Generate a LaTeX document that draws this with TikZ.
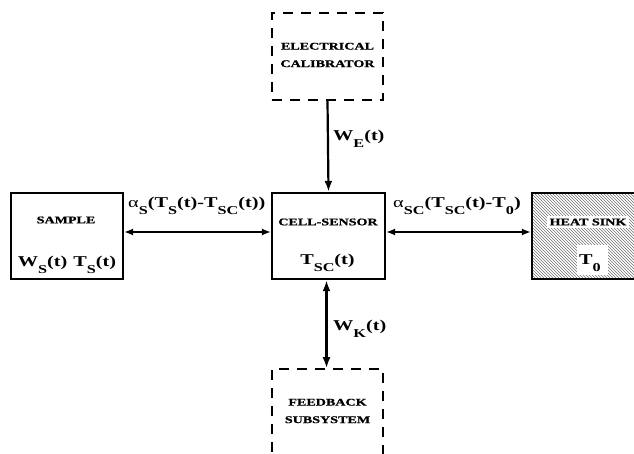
\documentclass[tikz,border=0pt]{standalone}
\usepackage{fontspec}
\setmainfont{Liberation Serif}[FakeStretch=1.35]
\newfontfamily\capfont{Liberation Serif}[FakeStretch=1.38, FakeBold=1.2]
\usetikzlibrary{arrows.meta,patterns}
\newcommand\sbs[1]{\raisebox{-7pt}{\fontsize{12}{12}\selectfont\bfseries #1}}
\begin{document}
\begin{tikzpicture}[x=1pt,y=-1pt,
 blk/.style={draw,line width=2.4pt,inner sep=0pt},
 dbox/.style={draw,line width=1.6pt,dash pattern=on 10pt off 8pt,inner sep=0pt},
 boxcap/.style={font=\capfont\bfseries\fontsize{10.2}{17.5}\selectfont, align=center, inner sep=1pt},
 lbl/.style={font=\bfseries\fontsize{15}{17}\selectfont, inner sep=0pt},
 harr/.style={line width=1.4pt,{Latex[length=9pt,width=7pt]}-{Latex[length=9pt,width=7pt]}},
 varr/.style={line width=2.2pt}]
\useasboundingbox (0,0) rectangle (634,454);
\clip (0,0) rectangle (634,454);
% boxes
\node[blk, minimum width=112pt, minimum height=86pt] (sample) at (67,236) {};
\node[blk, minimum width=113pt, minimum height=86pt] (cell) at (328.5,236) {};
\node[blk, minimum width=130pt, minimum height=86pt, pattern=north west lines, pattern color=black!55] (sink) at (597,236) {};
\node[dbox, minimum width=111pt, minimum height=87pt] (cal) at (327.5,56.5) {};
\node[dbox, minimum width=111pt, minimum height=101pt] (fb) at (327.5,419.5) {};
% box texts
\node[boxcap] (tsample) at (66,220) {SAMPLE};
\node[lbl, anchor=base] (vsample) at (67,266) {W\sbs{S}(t)\hspace{6pt}T\sbs{S}(t)};
\node[boxcap] (tcell) at (328,222) {CELL-SENSOR};
\node[lbl, anchor=base] (vcell) at (327.5,265) {T\sbs{SC}(t)};
\node[boxcap, fill=white, inner sep=3pt] (tsink) at (588,222) {HEAT SINK};
\node[fill=white, minimum width=31pt, minimum height=29pt, inner sep=0pt] (wsink) at (592,260) {};
\node[lbl, anchor=base] (vsink) at (590,265) {T\sbs{0}};
\node[boxcap] (tcal) at (327.5,55) {ELECTRICAL\\CALIBRATOR};
\node[boxcap] (tfb) at (327.5,411) {FEEDBACK\\SUBSYSTEM};
% connectors
\draw[harr] ([yshift=4pt]sample.east) -- ([yshift=4pt]cell.west);
\draw[harr] ([yshift=4pt]cell.east) -- ([yshift=4pt]sink.west);
\draw[varr,-{Latex[length=11pt,width=8pt]}] (cal.south) -- (cell.north);
\draw[varr,{Latex[length=11pt,width=8pt]}-{Latex[length=11pt,width=8pt]}] ([xshift=-2pt]cell.south) -- ([xshift=-1pt]fb.north);
% connector labels
\node[lbl, anchor=base west] (la) at (128,208) {{\mdseries α}\sbs{S}(T\sbs{S}(t)-T\sbs{SC}(t))};
\node[lbl, anchor=base west] (lb) at (393,208) {{\mdseries α}\sbs{SC}(T\sbs{SC}(t)-T\sbs{0})};
\node[lbl, anchor=base west] (le) at (333,141) {W\sbs{E}(t)};
\node[lbl, anchor=base west] (lk) at (333,330) {W\sbs{K}(t)};
\end{tikzpicture}
\end{document}
